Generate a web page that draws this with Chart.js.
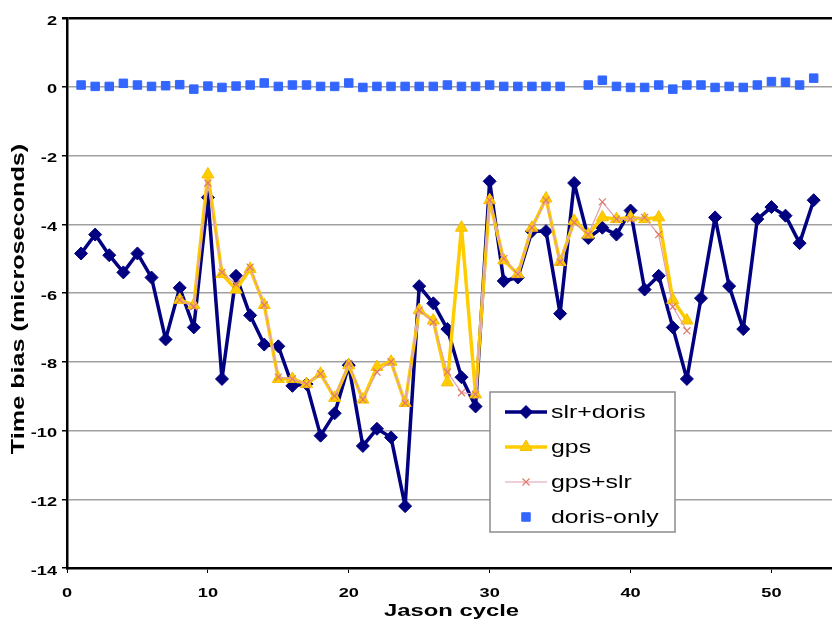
<!DOCTYPE html>
<html>
<head>
<meta charset="utf-8">
<script src="https://cdn.jsdelivr.net/npm/chart.js@4.4.0/dist/chart.umd.min.js"></script>
<style>
  html, body { margin: 0; padding: 0; background: #fff; }
  #wrap { width: 832px; height: 627px; position: relative; }
</style>
</head>
<body>
<div id="wrap"><canvas id="chart" width="832" height="627"></canvas></div>
<script>
// Jason cycle vs time bias (microseconds)
const cycles = Array.from({ length: 53 }, (_, i) => i + 1);
const slrDoris = [
  -4.85, -4.3, -4.9, -5.4, -4.85, -5.55, -7.35, -5.85, -7.0, -3.22,
  -8.5, -5.5, -6.65, -7.5, -7.55, -8.7, -8.65, -10.15, -9.5, -8.1,
  -10.45, -9.95, -10.2, -12.2, -5.8, -6.3, -7.05, -8.45, -9.3, -2.75,
  -5.65, -5.55, -4.2, -4.2, -6.6, -2.8, -4.4, -4.1, -4.3, -3.6,
  -5.9, -5.5, -7.0, -8.5, -6.15, -3.8, -5.8, -7.05, -3.85, -3.5,
  -3.75, -4.55, -3.3,
];
const gpsCycles = Array.from({ length: 37 }, (_, i) => i + 8);
const gps = [
  -6.2, -6.35, -2.55, -5.45, -5.9, -5.3, -6.35, -8.5, -8.5, -8.65,
  -8.35, -9.05, -8.1, -9.1, -8.15, -8.0, -9.2, -6.5, -6.8, -8.6,
  -4.1, -8.95, -3.3, -5.05, -5.45, -4.1, -3.25, -5.1, -3.9, -4.3,
  -3.8, -3.85, -3.8, -3.85, -3.8, -6.2, -6.8,
];
const gpsSlr = [
  -6.2, -6.4, -2.8, -5.4, -5.75, -5.25, -6.35, -8.45, -8.5, -8.65,
  -8.35, -9.0, -8.05, -9.1, -8.3, -8.0, -9.2, -6.5, -6.85, -8.3,
  -8.9, -8.95, -3.3, -5.0, -5.45, -4.1, -3.3, -5.1, -3.95, -4.3,
  -3.35, -3.85, -3.85, -3.8, -4.3, -6.4, -7.1,
];
const dorisOnly = [
  0.05, 0.01, 0.01, 0.1, 0.05, 0.01, 0.03, 0.06, -0.07, 0.02,
  -0.02, 0.02, 0.05, 0.11, 0.01, 0.05, 0.05, 0.01, 0.01, 0.11,
  -0.02, 0.01, 0.01, 0.01, 0.01, 0.01, 0.05, 0.01, 0.01, 0.05,
  0.01, 0.01, 0.01, 0.01, 0.01, null, 0.05, 0.19, 0.01, -0.02,
  -0.02, 0.05, -0.07, 0.05, 0.05, -0.02, 0.01, -0.02, 0.05, 0.15,
  0.13, 0.05, 0.25,
];
const xTicks = [0, 10, 20, 30, 40, 50];
const yTicks = [2, 0, -2, -4, -6, -8, -10, -12, -14];
const xTitle = "Jason cycle";
const yTitle = "Time bias (microseconds)";

const pts = (xs, ys) => xs.map((x, i) => ({ x, y: ys[i] }));
const FONT = '"Liberation Sans", Arial, sans-serif';
const STRETCH = 1.4; // the figure's text is wide, like a horizontally scaled export

function wideText(ctx, text, x, y, font, align, angle) {
  ctx.save();
  ctx.translate(x, y);
  if (angle) ctx.rotate(angle);
  ctx.scale(STRETCH, 1);
  ctx.font = font;
  ctx.fillStyle = "#000";
  ctx.textAlign = align;
  ctx.textBaseline = "middle";
  ctx.fillText(text, 0, 0);
  ctx.restore();
}

// tick labels and axis titles, placed from the chart's own scales
const axisText = {
  id: "axisText",
  afterDraw(chart) {
    const { ctx, chartArea } = chart;
    const xs = chart.scales.x, ys = chart.scales.y;
    const tickFont = "bold 13px " + FONT;
    for (const v of xTicks) {
      wideText(ctx, String(v), xs.getPixelForValue(v), 593, tickFont, "center");
    }
    for (const v of yTicks) {
      wideText(ctx, String(v), 57, ys.getPixelForValue(v) + 3, tickFont, "right");
    }
    wideText(ctx, xTitle, (chartArea.left + chartArea.right) / 2 + 2, 611,
      "bold 17px " + FONT, "center");
    wideText(ctx, yTitle, 19, (chartArea.top + chartArea.bottom) / 2 + 6,
      "bold 18px " + FONT, "center", -Math.PI / 2);
  },
};

// legend drawn inside the plot, like the Excel box
const boxLegend = {
  id: "boxLegend",
  afterDraw(chart) {
    const { ctx } = chart;
    const left = 490, top = 392, w = 185, h = 140;
    ctx.save();
    ctx.fillStyle = "#fff";
    ctx.fillRect(left, top, w, h);
    ctx.strokeStyle = "#8c8c8c";
    ctx.lineWidth = 1.5;
    ctx.strokeRect(left, top, w, h);
    chart.data.datasets.forEach((ds, i) => {
      const y = top + 20 + i * 35;
      if (ds.showLine !== false) {
        ctx.strokeStyle = ds.borderColor;
        ctx.lineWidth = ds.borderWidth;
        ctx.beginPath();
        ctx.moveTo(505, y);
        ctx.lineTo(547, y);
        ctx.stroke();
      }
      ctx.fillStyle = ds.pointBackgroundColor;
      ctx.strokeStyle = ds.pointBorderColor;
      ctx.lineWidth = ds.pointBorderWidth;
      Chart.helpers.drawPoint(ctx, {
        pointStyle: ds.pointStyle,
        radius: ds.pointRadius,
        rotation: 0,
        borderWidth: ds.pointBorderWidth,
      }, 526, y);
      ctx.save();
      ctx.translate(551, y);
      ctx.scale(1.38, 1);
      ctx.fillStyle = "#000";
      ctx.font = "18px " + FONT;
      ctx.textBaseline = "middle";
      ctx.fillText(ds.label, 0, 1);
      ctx.restore();
    });
    ctx.restore();
  },
};

new Chart(document.getElementById("chart"), {
  type: "scatter",
  data: {
    datasets: [
      {
        label: "slr+doris",
        data: pts(cycles, slrDoris),
        showLine: true,
        borderColor: "#000080",
        borderWidth: 3.5,
        borderJoinStyle: "round",
        borderCapStyle: "round",
        pointStyle: "rectRot",
        pointRadius: 6.5,
        pointBackgroundColor: "#000080",
        pointBorderColor: "#000080",
        pointBorderWidth: 1,
        order: 4,
      },
      {
        label: "gps",
        data: pts(gpsCycles, gps),
        showLine: true,
        borderColor: "#ffcc00",
        borderWidth: 3.5,
        borderJoinStyle: "round",
        borderCapStyle: "round",
        pointStyle: "triangle",
        pointRadius: 7,
        pointBackgroundColor: "#ffcc00",
        pointBorderColor: "#f5c000",
        pointBorderWidth: 1,
        order: 3,
      },
      {
        label: "gps+slr",
        data: pts(gpsCycles, gpsSlr),
        showLine: true,
        borderColor: "#e0a0b0",
        borderWidth: 1.2,
        pointStyle: "crossRot",
        pointRadius: 5,
        pointBackgroundColor: "#e07a6a",
        pointBorderColor: "#e07a6a",
        pointBorderWidth: 1.2,
        order: 2,
      },
      {
        label: "doris-only",
        data: pts(cycles, dorisOnly),
        showLine: false,
        borderColor: "#3366ff",
        borderWidth: 0,
        pointStyle: "rect",
        pointRadius: 6,
        pointBackgroundColor: "#3366ff",
        pointBorderColor: "#3366ff",
        pointBorderWidth: 1,
        order: 1,
      },
    ],
  },
  options: {
    responsive: false,
    animation: false,
    devicePixelRatio: 1,
    layout: { autoPadding: false, padding: { top: 18, right: 0, left: 0, bottom: 0 } },
    plugins: { legend: { display: false }, tooltip: { enabled: false } },
    scales: {
      x: {
        type: "linear",
        min: 0,
        max: 54.3,
        afterBuildTicks: (s) => { s.ticks = xTicks.map((v) => ({ value: v })); },
        afterFit: (s) => { s.height = 59; },
        grid: { drawOnChartArea: false, tickLength: 5, color: "#000" },
        border: { color: "#000", width: 2.5 },
        ticks: { display: false },
      },
      y: {
        min: -14,
        max: 2,
        afterBuildTicks: (s) => { s.ticks = yTicks.map((v) => ({ value: v })); },
        afterFit: (s) => { s.width = 67; },
        grid: {
          tickLength: 5,
          color: (c) => (c.tick && c.tick.value === 2 ? "#000" : "#a0a0a0"),
          lineWidth: (c) => (c.tick && c.tick.value === 2 ? 2.5 : 1.5),
          tickColor: "#000",
        },
        border: { color: "#000", width: 2.5 },
        ticks: { display: false },
      },
    },
  },
  plugins: [axisText, boxLegend],
});
</script>
</body>
</html>
